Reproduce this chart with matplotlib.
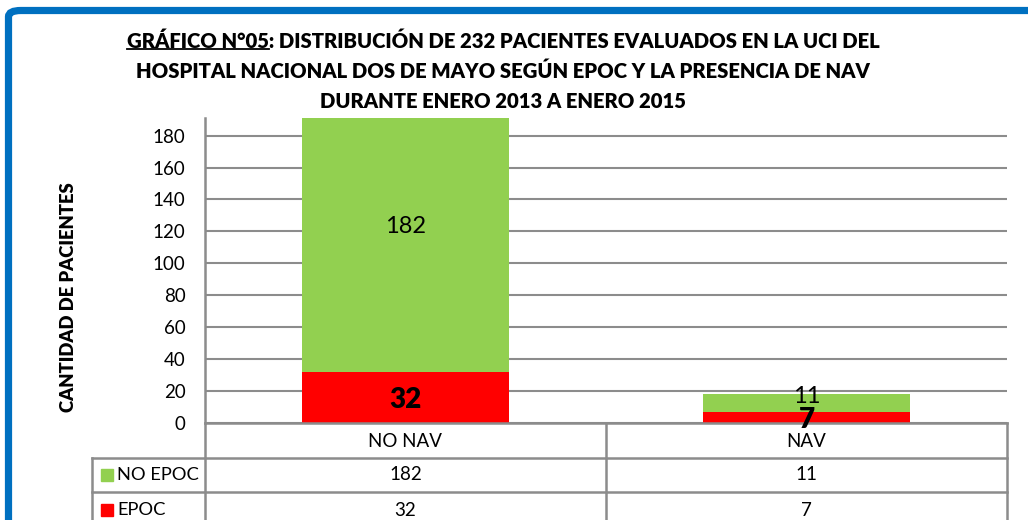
import matplotlib
matplotlib.use("Agg")
import matplotlib.pyplot as plt
from matplotlib.lines import Line2D
from matplotlib.patches import FancyBboxPatch, Rectangle

# datos del grafico
categorias = ["NO NAV", "NAV"]
series = ["NO EPOC", "EPOC"]
no_epoc = [182, 11]
epoc = [32, 7]
colores = ["#92D050", "#FF0000"]
yticks = [0, 20, 40, 60, 80, 100, 120, 140, 160, 180]
ymax = 191

titulo_pre = "GRÁFICO N°05"
titulo_1 = ": DISTRIBUCIÓN DE 232 PACIENTES EVALUADOS EN LA UCI DEL"
titulo_2 = "HOSPITAL NACIONAL DOS DE MAYO SEGÚN EPOC Y LA PRESENCIA DE NAV"
titulo_3 = "DURANTE ENERO 2013 A ENERO 2015"
ylabel = "CANTIDAD DE PACIENTES"

plt.rcParams['font.family'] = ['Lato', 'DejaVu Sans']
W, H = 1028, 520
GRIS = "#8C8C8C"
TFS = 14.6


def fx(px):
    return px / W


def fy(py):
    return 1 - py / H


fig = plt.figure(figsize=(W / 100, H / 100), dpi=100)

# marco azul
marco = FancyBboxPatch((fx(8.5), fy(560)), fx(1100), fy(10.5) - fy(560),
                       boxstyle="round,pad=0,rounding_size=0.012",
                       transform=fig.transFigure, fill=False,
                       edgecolor="#0070C0", lw=5.2, zorder=0)
fig.add_artist(marco)

ax = fig.add_axes([fx(205), fy(423), fx(802), fy(118) - fy(423)])
x = list(range(len(categorias)))
ax.bar(x, epoc, width=0.514, color=colores[1], zorder=2)
ax.bar(x, no_epoc, bottom=epoc, width=0.514, color=colores[0], zorder=2)
ax.set_xlim(-0.5, len(categorias) - 0.5)
ax.set_ylim(0, ymax)
ax.set_yticks(yticks)
ax.set_xticks([])
ax.tick_params(axis='y', length=0, pad=14, labelsize=13.5, colors="black")
ax.yaxis.grid(True, color=GRIS, lw=1.5, zorder=1)
for s in ["top", "right"]:
    ax.spines[s].set_visible(False)
for s in ["left", "bottom"]:
    ax.spines[s].set_color(GRIS)
    ax.spines[s].set_linewidth(1.8)

# etiquetas de datos
for i in x:
    yc = epoc[i] + no_epoc[i] / 2
    off = 5 if no_epoc[i] < 15 else 0
    ax.annotate(str(no_epoc[i]), (i, yc), xytext=(0, off), textcoords="offset points",
                ha="center", va="center", fontsize=17, zorder=3)
    ax.annotate(str(epoc[i]), (i, epoc[i] / 2), xytext=(0, -2), textcoords="offset points",
                ha="center", va="center", fontsize=20, fontweight="heavy", zorder=3)

ax.set_ylabel(ylabel, fontsize=13.3, fontweight="heavy")
ax.yaxis.set_label_coords(-0.159, 0.413)

# tabla de datos
fig.canvas.draw()
to_fig = ax.transData + fig.transFigure.inverted()
bordes = [to_fig.transform((b, 0))[0] for b in [-0.5, 0.5, 1.5]]
centros = [to_fig.transform((i, 0))[0] for i in x]
filas = [423, 458, 492, 530]
izq = fx(92)


def linea(x0, x1, y0, y1):
    fig.add_artist(Line2D([x0, x1], [y0, y1], color=GRIS, lw=1.8,
                          transform=fig.transFigure, clip_on=False))


for b in bordes:
    linea(b, b, fy(filas[0]), fy(filas[-1]))
linea(izq, izq, fy(filas[1]), fy(filas[-1]))
linea(izq, bordes[-1], fy(filas[1]), fy(filas[1]))
linea(izq, bordes[-1], fy(filas[2]), fy(filas[2]))

for c, cat in zip(centros, categorias):
    fig.text(c, fy((filas[0] + filas[1]) / 2 + 1), cat, ha="center", va="center", fontsize=13.5)

valores = [no_epoc, epoc]
for r, (nombre, vals, col) in enumerate(zip(series, valores, colores)):
    yc = fy((filas[r + 1] + filas[r + 2]) / 2) if r == 0 else fy(510)
    fig.add_artist(Rectangle((fx(101), yc - 6 / H), fx(12), 12 / H, color=col,
                             transform=fig.transFigure))
    fig.text(fx(117), yc, nombre, ha="left", va="center", fontsize=13.2)
    for c, v in zip(centros, vals):
        fig.text(c, yc, str(v), ha="center", va="center", fontsize=13.5)

# titulo
cx = fx(503)
t1 = fig.text(cx, fy(41), titulo_pre + titulo_1, ha="center", va="center",
              fontsize=TFS, fontweight="heavy")
fig.text(cx, fy(71), titulo_2, ha="center", va="center", fontsize=TFS, fontweight="heavy")
fig.text(cx, fy(101), titulo_3, ha="center", va="center", fontsize=TFS, fontweight="heavy")

r = fig.canvas.get_renderer()
bb = t1.get_window_extent(r).transformed(fig.transFigure.inverted())
tmp = fig.text(0, 0, titulo_pre, fontsize=TFS, fontweight="heavy")
wpre = tmp.get_window_extent(r).transformed(fig.transFigure.inverted()).width
tmp.remove()
yu = bb.y0 + 1.5 / H
fig.add_artist(Line2D([bb.x0, bb.x0 + wpre], [yu, yu], color="black", lw=1.3,
                      transform=fig.transFigure))

fig.savefig("out.png", dpi=100)
